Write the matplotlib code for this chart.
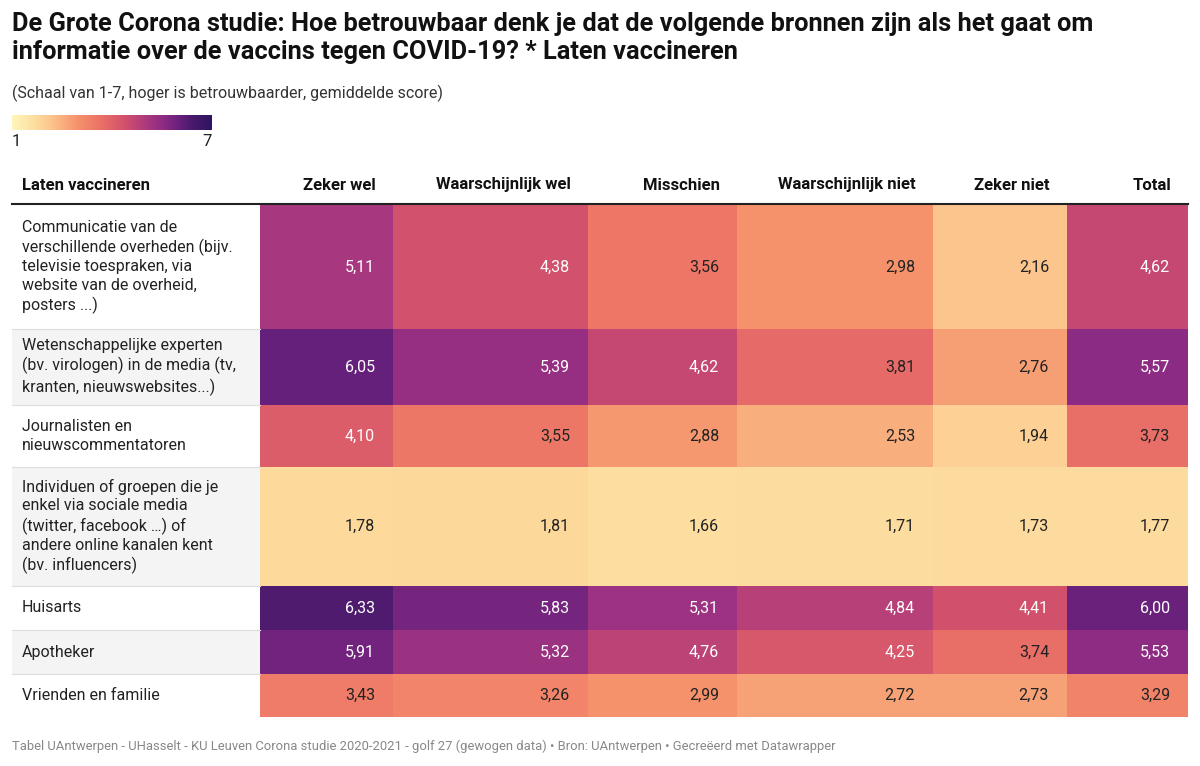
import matplotlib
matplotlib.use("Agg")
import matplotlib.pyplot as plt
from matplotlib.colors import LinearSegmentedColormap, Normalize
from matplotlib.patches import Rectangle
import numpy as np

plt.rcParams['font.family'] = ['Roboto', 'DejaVu Sans']

title = "De Grote Corona studie: Hoe betrouwbaar denk je dat de volgende bronnen zijn als het gaat om\ninformatie over de vaccins tegen COVID-19? * Laten vaccineren"
subtitle = "(Schaal van 1-7, hoger is betrouwbaarder, gemiddelde score)"
footer = "Tabel UAntwerpen - UHasselt - KU Leuven Corona studie 2020-2021 - golf 27 (gewogen data) • Bron: UAntwerpen • Gecreëerd met Datawrapper"
columns = ["Zeker wel", "Waarschijnlijk wel", "Misschien", "Waarschijnlijk niet", "Zeker niet", "Total"]
rows = [
    "Communicatie van de\nverschillende overheden (bijv.\ntelevisie toespraken, via\nwebsite van de overheid,\nposters ...)",
    "Wetenschappelijke experten\n(bv. virologen) in de media (tv,\nkranten, nieuwswebsites...)",
    "Journalisten en\nnieuwscommentatoren",
    "Individuen of groepen die je\nenkel via sociale media\n(twitter, facebook …) of\nandere online kanalen kent\n(bv. influencers)",
    "Huisarts",
    "Apotheker",
    "Vrienden en familie",
]
values = np.array([
    [5.11, 4.38, 3.56, 2.98, 2.16, 4.62],
    [6.05, 5.39, 4.62, 3.81, 2.76, 5.57],
    [4.10, 3.55, 2.88, 2.53, 1.94, 3.73],
    [1.78, 1.81, 1.66, 1.71, 1.73, 1.77],
    [6.33, 5.83, 5.31, 4.84, 4.41, 6.00],
    [5.91, 5.32, 4.76, 4.25, 3.74, 5.53],
    [3.43, 3.26, 2.99, 2.72, 2.73, 3.29],
])

stops = [(1.0, "#fff6ba"), (1.8, "#fdd89b"), (2.2, "#fcc38c"), (3.0, "#f5906a"),
         (3.6, "#ec7467"), (4.4, "#d2506c"), (5.1, "#a8377f"), (5.6, "#8a2a83"),
         (6.1, "#621f7a"), (6.4, "#4a1a6c"), (7.0, "#2e1561")]
cmap = LinearSegmentedColormap.from_list("dw", [((v - 1) / 6, c) for v, c in stops])
norm = Normalize(1, 7)

fig = plt.figure(figsize=(12, 7.66), dpi=100)
ax = fig.add_axes([0, 0, 1, 1])
ax.set_xlim(0, 1200); ax.set_ylim(766, 0); ax.axis('off')

ax.text(12, 12, title, fontsize=18.3, fontweight='bold', va='top', color='#111', linespacing=1.2)
ax.text(12, 93, subtitle, fontsize=11.5, va='center', color='#333')
grad = np.linspace(1, 7, 256).reshape(1, -1)
ax.imshow(grad, cmap=cmap, norm=norm, extent=(12, 212, 130, 115), aspect='auto')
ax.text(12, 141, "1", fontsize=12, va='center', color='#222')
ax.text(212, 141, "7", fontsize=12, va='center', ha='right', color='#222')

xb = [260, 393, 588, 737, 933, 1067, 1188]
yb = [205, 329, 405, 467, 586, 630, 674, 717]

ax.text(22, 185, "Laten vaccineren", fontsize=12, fontweight='bold', va='center', color='#111')
for j, c in enumerate(columns):
    ax.text(xb[j+1] - 17, 185, c, fontsize=12, fontweight='bold', va='center', ha='right', color='#111')
ax.plot([12, 1188], [204, 204], color='#222', lw=1.5)

for i, r in enumerate(rows):
    y0, y1 = yb[i], yb[i+1]
    if i % 2 == 1:
        ax.add_patch(Rectangle((12, y0), 248, y1 - y0, color='#f4f4f4', lw=0))
    if i > 0:
        ax.plot([12, 260], [y0, y0], color='#dddddd', lw=0.8)
    ax.text(22, (y0 + y1) / 2, r, fontsize=11.5, va='center', color='#222', linespacing=1.3)
    for j in range(len(columns)):
        v = values[i, j]
        ax.add_patch(Rectangle((xb[j], y0), xb[j+1] - xb[j], y1 - y0, color=cmap(norm(v)), lw=0))
        ax.text(xb[j+1] - 18, (y0 + y1) / 2, f"{v:.2f}".replace('.', ','), fontsize=11.5,
                va='center', ha='right', color='white' if v > 4.0 else '#222')

ax.text(12, 746, footer, fontsize=9.4, va='center', color='#888')
fig.savefig("out.png", dpi=100, facecolor='white')
